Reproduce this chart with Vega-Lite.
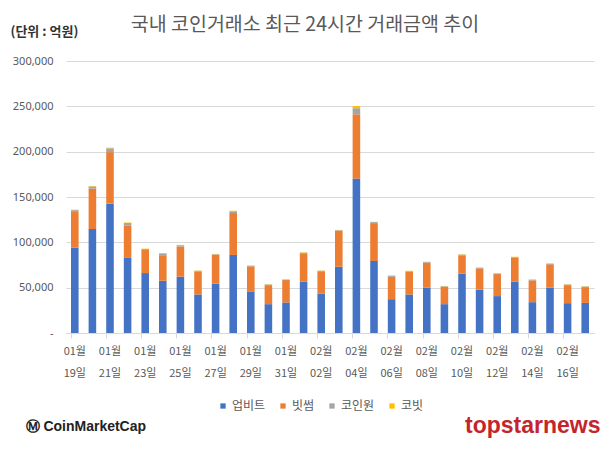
{
  "$schema": "https://vega.github.io/schema/vega-lite/v6.json",
  "width": 528,
  "height": 272,
  "autosize": {"type": "none"},
  "padding": {"left": 66, "top": 61, "right": 16, "bottom": 118},
  "background": "white",
  "title": {
    "text": "국내 코인거래소 최근 24시간 거래금액 추이",
    "font": "Noto Sans CJK KR",
    "fontSize": 19.5,
    "fontWeight": "normal",
    "color": "#595959",
    "anchor": "middle",
    "dx": -25,
    "offset": -10
  },
  "data": {
    "values": [
      {"date": "01월 19일", "업비트": 94200, "빗썸": 39200, "코인원": 2100, "코빗": 500},
      {"date": "01월 20일", "업비트": 114600, "빗썸": 44600, "코인원": 2500, "코빗": 500},
      {"date": "01월 21일", "업비트": 142600, "빗썸": 56900, "코인원": 4200, "코빗": 700},
      {"date": "01월 22일", "업비트": 82800, "빗썸": 35800, "코인원": 2700, "코빗": 500},
      {"date": "01월 23일", "업비트": 66100, "빗썸": 25400, "코인원": 1100, "코빗": 400},
      {"date": "01월 24일", "업비트": 57600, "빗썸": 28200, "코인원": 2000, "코빗": 400},
      {"date": "01월 25일", "업비트": 62100, "빗썸": 33200, "코인원": 1500, "코빗": 400},
      {"date": "01월 26일", "업비트": 42500, "빗썸": 25500, "코인원": 600, "코빗": 300},
      {"date": "01월 27일", "업비트": 54300, "빗썸": 32100, "코인원": 500, "코빗": 300},
      {"date": "01월 28일", "업비트": 86100, "빗썸": 46200, "코인원": 2000, "코빗": 500},
      {"date": "01월 29일", "업비트": 45900, "빗썸": 27600, "코인원": 700, "코빗": 300},
      {"date": "01월 30일", "업비트": 31800, "빗썸": 21000, "코인원": 700, "코빗": 300},
      {"date": "01월 31일", "업비트": 33700, "빗썸": 24700, "코인원": 500, "코빗": 300},
      {"date": "02월 01일", "업비트": 56500, "빗썸": 31500, "코인원": 700, "코빗": 300},
      {"date": "02월 02일", "업비트": 43600, "빗썸": 24400, "코인원": 700, "코빗": 300},
      {"date": "02월 03일", "업비트": 73100, "빗썸": 39600, "코인원": 700, "코빗": 300},
      {"date": "02월 04일", "업비트": 170300, "빗썸": 70900, "코인원": 6700, "코빗": 2500},
      {"date": "02월 05일", "업비트": 79400, "빗썸": 41800, "코인원": 1100, "코빗": 300},
      {"date": "02월 06일", "업비트": 37300, "빗썸": 24700, "코인원": 1200, "코빗": 300},
      {"date": "02월 07일", "업비트": 42500, "빗썸": 25100, "코인원": 700, "코빗": 300},
      {"date": "02월 08일", "업비트": 49900, "빗썸": 27700, "코인원": 700, "코빗": 300},
      {"date": "02월 09일", "업비트": 31800, "빗썸": 19200, "코인원": 600, "코빗": 300},
      {"date": "02월 10일", "업비트": 65400, "빗썸": 20300, "코인원": 800, "코빗": 300},
      {"date": "02월 11일", "업비트": 47700, "빗썸": 23600, "코인원": 700, "코빗": 300},
      {"date": "02월 12일", "업비트": 40700, "빗썸": 24300, "코인원": 700, "코빗": 300},
      {"date": "02월 13일", "업비트": 56500, "빗썸": 26600, "코인원": 700, "코빗": 300},
      {"date": "02월 14일", "업비트": 34000, "빗썸": 24000, "코인원": 800, "코빗": 300},
      {"date": "02월 15일", "업비트": 49900, "빗썸": 25900, "코인원": 700, "코빗": 300},
      {"date": "02월 16일", "업비트": 32900, "빗썸": 19900, "코인원": 700, "코빗": 300},
      {"date": "02월 17일", "업비트": 33200, "빗썸": 17400, "코인원": 700, "코빗": 300}
    ]
  },
  "layer": [
    {
      "transform": [{"fold": ["업비트", "빗썸", "코인원", "코빗"], "as": ["exchange", "amount"]}],
      "mark": {"type": "bar"},
      "encoding": {
        "x": {
          "field": "date",
          "type": "nominal",
          "sort": null,
          "scale": {"paddingInner": 0.57, "paddingOuter": 0.285},
          "axis": {
            "values": ["01월 19일", "01월 21일", "01월 23일", "01월 25일", "01월 27일", "01월 29일", "01월 31일", "02월 02일", "02월 04일", "02월 06일", "02월 08일", "02월 10일", "02월 12일", "02월 14일", "02월 16일"],
            "labelExpr": "split(datum.value, ' ')",
            "labelAngle": 0,
            "labelFont": "Noto Sans CJK KR",
            "labelFontSize": 11,
            "labelColor": "#595959",
            "labelLineHeight": 22,
            "labelBaseline": "top",
            "labelPadding": 7,
            "bandPosition": 0,
            "tickColor": "#d9d9d9",
            "tickSize": 5,
            "domainColor": "#d9d9d9",
            "grid": false,
            "title": "Ⓜ CoinMarketCap",
            "titleFont": "Liberation Sans",
            "titleFontSize": 14,
            "titleFontWeight": "bold",
            "titleColor": "#222222",
            "titleAlign": "left",
            "titleBaseline": "alphabetic",
            "titleAnchor": "start",
            "titleX": -41,
            "titleY": 97
          }
        },
        "y": {
          "field": "amount",
          "type": "quantitative",
          "stack": "zero",
          "scale": {"domain": [0, 300000], "nice": false},
          "axis": {
            "values": [0, 50000, 100000, 150000, 200000, 250000, 300000],
            "labelExpr": "datum.value === 0 ? '-' : format(datum.value, ',')",
            "labelFont": "Noto Sans",
            "labelFontSize": 11,
            "labelColor": "#595959",
            "labelPadding": 13,
            "ticks": false,
            "domain": false,
            "gridColor": "#d9d9d9",
            "title": "(단위 : 억원)",
            "titleFont": "Noto Sans CJK KR",
            "titleFontSize": 13,
            "titleFontWeight": "bold",
            "titleColor": "#333333",
            "titleAngle": 0,
            "titleAlign": "left",
            "titleBaseline": "alphabetic",
            "titleX": -56,
            "titleY": -26
          }
        },
        "order": {"field": "amount", "sort": "descending"},
        "color": {
          "field": "exchange",
          "type": "nominal",
          "sort": ["업비트", "빗썸", "코인원", "코빗"],
          "scale": {"domain": ["업비트", "빗썸", "코인원", "코빗"], "range": ["#4472C4", "#ED7D31", "#A5A5A5", "#FFC000"]},
          "legend": {
            "orient": "none",
            "direction": "horizontal",
            "legendX": 151,
            "legendY": 339,
            "title": null,
            "symbolType": "square",
            "symbolSize": 28,
            "symbolStrokeWidth": 0,
            "labelFont": "Noto Sans CJK KR",
            "labelFontSize": 12,
            "labelColor": "#595959",
            "labelOffset": 3,
            "columnPadding": 11
          }
        }
      }
    },
    {
      "mark": {"type": "tick", "opacity": 0},
      "encoding": {
        "x": {"field": "date", "type": "nominal", "sort": null},
        "y": {
          "field": "업비트",
          "type": "quantitative",
          "axis": {
            "orient": "right",
            "labels": false,
            "ticks": false,
            "domain": false,
            "grid": false,
            "title": "topstarnews",
            "titleFont": "Liberation Sans",
            "titleFontSize": 23,
            "titleFontWeight": "bold",
            "titleColor": "#c4252c",
            "titleAngle": 0,
            "titleAlign": "right",
            "titleBaseline": "alphabetic",
            "titleX": 6,
            "titleY": 371
          }
        }
      }
    }
  ],
  "resolve": {"scale": {"y": "independent"}},
  "config": {"view": {"stroke": null}}
}
